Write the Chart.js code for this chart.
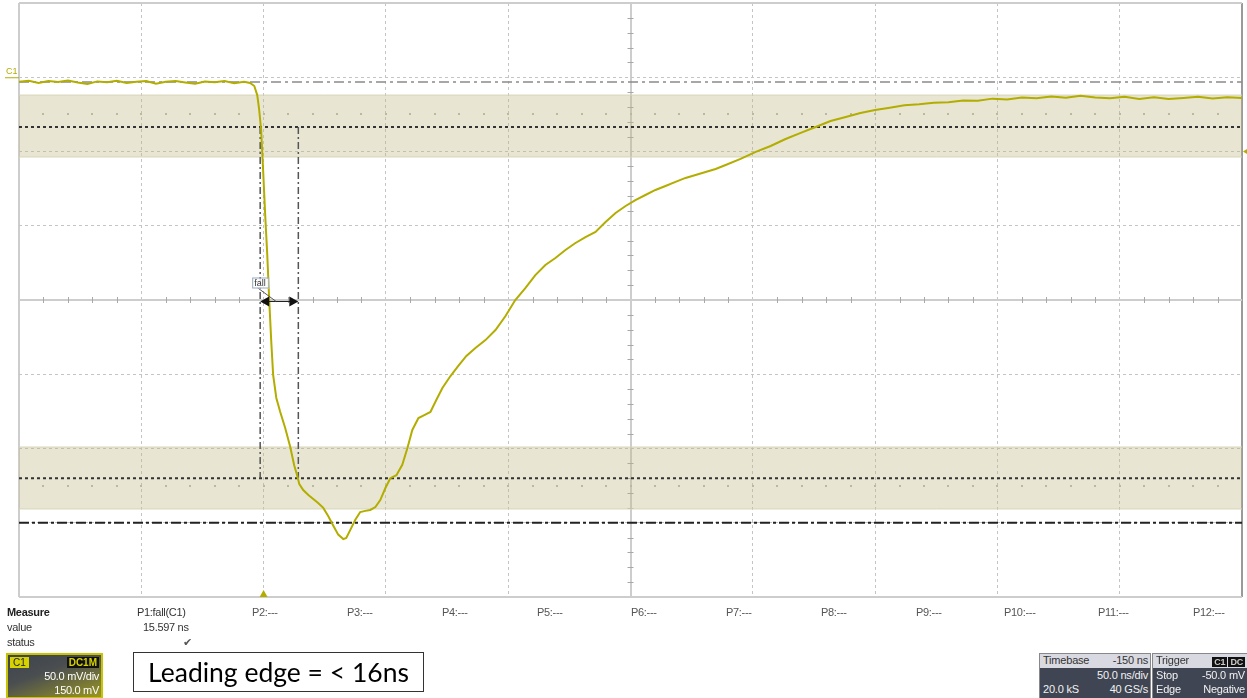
<!DOCTYPE html>
<html>
<head>
<meta charset="utf-8">
<script src="https://cdn.jsdelivr.net/npm/chart.js@4"></script>
<style>
body { margin: 0; background: #fff; font-family: "Liberation Sans", Arial, sans-serif; }
#wrap { position: relative; width: 1247px; height: 698px; overflow: hidden; }
#scope { position: absolute; left: 0; top: 0; }
.t { position: absolute; font-size: 11px; line-height: 13px; color: #333; white-space: nowrap; letter-spacing: -0.3px; }
.b { font-weight: bold; color: #222; }
.plab { color: #555; }
#chbox { position: absolute; left: 6px; top: 653px; width: 93px; height: 42px; border: 2px solid #c9c400;
  background: linear-gradient(160deg, #3d434d 0%, #4a4e50 40%, #9a9624 100%); }
#chbox .c1 { position: absolute; left: 2px; top: 2px; background: #d6d200; color: #222; font-size: 10px; line-height: 11px; padding: 0 3px; }
#chbox .dc { position: absolute; right: 2px; top: 2px; background: #111; color: #d6d200; font-size: 10px; line-height: 11px; padding: 0 2px; font-weight: bold; }
#chbox .r { position: absolute; right: 2px; color: #fff; font-size: 11px; line-height: 13px; letter-spacing: -0.3px; }
#note { position: absolute; left: 133px; top: 652px; width: 289px; height: 38px; border: 1px solid #333; background: #fff;
  font-family: Lato, "Open Sans", sans-serif; font-size: 26.5px; line-height: 38px; text-align: center; color: #000; }
.panel { position: absolute; top: 653px; height: 44px; background: #3f4552; border: 1px solid #888; }
.panel .hd { position: absolute; left: 0; right: 0; top: 0; height: 14px; background: #d9d9e2; }
.panel .tx { position: absolute; font-size: 11px; line-height: 13px; white-space: nowrap; letter-spacing: -0.2px; }
.dark { color: #333; }
.wh { color: #f2f2f2; }
.badge { background: #111; color: #ccc; font-size: 9px; padding: 0 2px; font-weight: bold; }
</style>
</head>
<body>
<div id="wrap">
<canvas id="scope" width="1247" height="698"></canvas>

<div class="t b" style="left:7px;top:606px">Measure</div>
<div class="t" style="left:7px;top:621px">value</div>
<div class="t" style="left:7px;top:636px">status</div>
<div class="t" style="left:137px;top:606px">P1:fall(C1)</div>
<div class="t" style="left:143px;top:621px">15.597 ns</div>
<div class="t" style="left:183px;top:636px;color:#555">&#10004;</div>
<div id="plabels"></div>

<div id="chbox">
  <span class="c1">C1</span><span class="dc">DC1M</span>
  <span class="r" style="top:15px">50.0 mV/div</span>
  <span class="r" style="top:29px">150.0 mV</span>
</div>

<div id="note">Leading edge = &lt; 16ns</div>

<div class="panel" style="left:1039px;width:110px">
  <div class="hd"></div>
  <span class="tx dark" style="left:3px;top:0px">Timebase</span>
  <span class="tx dark" style="right:2px;top:0px">-150 ns</span>
  <span class="tx wh" style="right:2px;top:15px">50.0 ns/div</span>
  <span class="tx wh" style="left:3px;top:29px">20.0 kS</span>
  <span class="tx wh" style="right:2px;top:29px">40 GS/s</span>
</div>
<div class="panel" style="left:1152px;width:94px">
  <div class="hd"></div>
  <span class="tx dark" style="left:3px;top:0px">Trigger</span>
  <span class="tx" style="right:2px;top:1px;line-height:12px"><span class="badge">C1</span><span class="badge" style="margin-left:1px">DC</span></span>
  <span class="tx wh" style="left:3px;top:15px">Stop</span>
  <span class="tx wh" style="right:2px;top:15px">-50.0 mV</span>
  <span class="tx wh" style="left:3px;top:29px">Edge</span>
  <span class="tx wh" style="right:2px;top:29px">Negative</span>
</div>
</div>

<script>
// Scope screen: 50 ns/div, 50 mV/div, trigger at t = 0
const xMin = -100, xMax = 400, xStep = 50;
const yMin = -350, yMax = 50, yStep = 50;

// C1 waveform (ns, mV)
const timeNs = [
  -100, -96, -92, -88, -84, -80, -76, -72, -68, -64, -60, -56, -52, -48, -44, -40, -36, -32, -28, -24,
  -20, -16, -12, -8, -5.5, -3.8, -2.6, -1.8, -1.0, -0.2, 0.65, 1.5, 2.3, 3.1, 3.9, 5.2, 6.8, 8.8,
  10.9, 12.5, 13.7, 14.6, 16.2, 18.3, 20.3, 22.3, 24.4, 26.4, 28.5, 30.5, 32.6, 33.8, 35.4, 37.5,
  39.5, 41.6, 43.6, 45.7, 47.7, 49.8, 51.8, 54.3, 56.7, 58.8, 60.8, 63.3, 65.7, 68.2, 70.6, 73.1,
  76.4, 79.6, 82.9, 86.6, 90.7, 94.8, 98.9, 102.9, 107, 111.1, 115.2, 119.3, 123.4, 127.5, 131.6,
  135.7, 139.8, 143.9, 148, 152, 156.1, 160.2, 164.3, 168.4, 172.5, 176.6, 180.7, 184.8, 188.9,
  195, 201.2, 207.3, 213.4, 219.6, 225.7, 231.8, 238, 244, 250, 256, 262, 268, 274, 280, 286, 292,
  298, 304, 310, 316, 322, 328, 334, 340, 346, 352, 358, 364, 370, 376, 382, 388, 394, 400
];
const voltMv = [
  -3.0, -2.4, -3.8, -2.6, -3.2, -2.2, -3.6, -4.6, -2.8, -3.4, -2.4, -3.9, -3.1, -2.5, -4.4, -3.0, -2.6, -3.5, -4.3, -2.9,
  -3.4, -2.6, -4.0, -3.0, -3.9, -5.9, -12, -22, -35.5, -62.5, -92.8, -119.7, -150, -177, -200.5, -216, -225.4, -236,
  -249, -261.3, -268, -274, -278, -281.3, -284, -286.7, -290, -295.5, -302, -308, -311, -310.3, -305, -298,
  -292.8, -292, -291.4, -289.4, -284.7, -276.6, -270, -268, -261, -249.7, -237.5, -229.5, -227.5, -225.4, -217.3, -209.3,
  -201.2, -194.4, -187.7, -182.3, -177, -170.2, -160.8, -150, -142, -133.2, -126.4, -121.7, -116.3, -111.6, -107.6,
  -104.2, -97.5, -91.4, -86.7, -82.7, -79.3, -75.9, -73.2, -70.5, -67.8, -65.8, -63.8, -61.8, -59.1,
  -55, -50.3, -46.3, -41.6, -37.5, -33.5, -29.5, -26.8, -24.1, -22, -20.5, -18.9, -18.2, -17.1, -16.8, -15.6, -15.9,
  -14.4, -14.9, -13.6, -14.2, -13.0, -13.8, -12.4, -13.6, -14.1, -13.2, -14.6, -13.4, -14.7, -13.9, -13.2, -14.3, -13.5, -14.0
];

// measurement levels and threshold bands (mV)
const topLevel = -3.2;
const baseLevel = -300;
const level10 = -33.5;
const level90 = -270;
const upperBand = [-12, -53.7];
const lowerBand = [-249, -290.7];
// fall measurement cursors (ns)
const fallStart = -1.4;
const fallEnd = 14.2;
const trigLevel = -50;

const pLabels = ['P2:---', 'P3:---', 'P4:---', 'P5:---', 'P6:---', 'P7:---', 'P8:---', 'P9:---', 'P10:---', 'P11:---', 'P12:---'];
const pLabelX = [252, 347, 442, 537, 631, 726, 821, 916, 1004, 1098, 1193];

const plab = document.getElementById('plabels');
pLabels.forEach((s, i) => {
    const d = document.createElement('div');
    d.className = 't plab';
    d.style.left = pLabelX[i] + 'px';
    d.style.top = '606px';
    d.textContent = s;
    plab.appendChild(d);
});

const hline = (y, color, dash, width, order) => ({
    data: [{ x: xMin, y: y }, { x: xMax, y: y }],
    borderColor: color, borderDash: dash, borderWidth: width,
    pointRadius: 0, fill: false, order: order
});
const vline = (x, y0, y1) => ({
    data: [{ x: x, y: y0 }, { x: x, y: y1 }],
    borderColor: '#555', borderDash: [7, 3, 2, 3], borderWidth: 1.5,
    pointRadius: 0, fill: false, order: 2
});
const bandFill = 'rgba(190, 185, 130, 0.36)';

const datasets = [
    { label: 'C1', data: timeNs.map((t, i) => ({ x: t, y: voltMv[i] })),
      borderColor: '#b3ad00', borderWidth: 2, pointRadius: 0, tension: 0, fill: false, order: 0 },
    // bands
    hline(upperBand[0], '#d7d4b8', [], 1, 5),
    Object.assign(hline(upperBand[1], '#d7d4b8', [], 1, 5), { fill: '-1', backgroundColor: bandFill }),
    hline(lowerBand[0], '#d7d4b8', [], 1, 5),
    Object.assign(hline(lowerBand[1], '#d7d4b8', [], 1, 5), { fill: '-1', backgroundColor: bandFill }),
    // levels
    hline(topLevel, '#8a8a8a', [10, 4, 3, 4], 1.5, 3),
    hline(level10, '#333', [3, 3], 2, 3),
    hline(level90, '#333', [3, 3], 2, 3),
    hline(baseLevel, '#222', [10, 3, 3, 3], 2, 3),
    vline(fallStart, level10, level90),
    vline(fallEnd, level10, level90)
];

const isEdge = (v, a, b) => v === a || v === b;

const scopeExtras = {
    id: 'scopeExtras',
    beforeDatasetsDraw(chart) {
        const { ctx, scales: { x, y } } = chart;
        const cx = x.getPixelForValue(150), cy = y.getPixelForValue(-150);
        ctx.save();
        ctx.strokeStyle = '#a8a8a8';
        ctx.lineWidth = 1;
        ctx.beginPath();
        for (let t = xMin + 10; t < xMax; t += 10) {
            if ((t - xMin) % 50 === 0) continue;
            const px = Math.round(x.getPixelForValue(t)) + 0.5;
            ctx.moveTo(px, cy - 3); ctx.lineTo(px, cy + 3);
        }
        for (let v = yMin + 10; v < yMax; v += 10) {
            if ((v - yMin) % 50 === 0) continue;
            const py = Math.round(y.getPixelForValue(v)) + 0.5;
            ctx.moveTo(cx - 3, py); ctx.lineTo(cx + 3, py);
        }
        ctx.stroke();
        // grid dots inside the bands
        ctx.fillStyle = '#b8b8ac';
        [-25, -275].forEach(v => {
            const py = Math.round(y.getPixelForValue(v));
            for (let t = xMin + 10; t < xMax; t += 10) {
                ctx.fillRect(Math.round(x.getPixelForValue(t)) - 1, py - 1, 2, 2);
            }
        });
        ctx.restore();
    },
    afterDraw(chart) {
        const { ctx, scales: { x, y }, chartArea } = chart;
        ctx.save();
        // fall arrow
        const xs = x.getPixelForValue(fallStart), xe = x.getPixelForValue(fallEnd);
        const ya = Math.round(y.getPixelForValue(-150)) + 1.5;
        ctx.strokeStyle = '#222';
        ctx.fillStyle = '#111';
        ctx.lineWidth = 1;
        ctx.beginPath();
        ctx.moveTo(xs + 4, ya); ctx.lineTo(xe - 4, ya);
        ctx.stroke();
        ctx.beginPath();
        ctx.moveTo(xs, ya); ctx.lineTo(xs + 9, ya - 5); ctx.lineTo(xs + 9, ya + 5); ctx.closePath();
        ctx.moveTo(xe, ya); ctx.lineTo(xe - 9, ya - 5); ctx.lineTo(xe - 9, ya + 5); ctx.closePath();
        ctx.fill();
        ctx.strokeStyle = '#555';
        ctx.beginPath();
        ctx.moveTo(xs - 3, ya - 14); ctx.lineTo(xs + 16, ya);
        ctx.stroke();
        ctx.fillStyle = 'rgba(255,255,255,0.85)';
        ctx.fillRect(xs - 7, ya - 23, 16, 10);
        ctx.strokeStyle = '#9ab';
        ctx.strokeRect(xs - 7.5, ya - 23.5, 16, 10);
        ctx.fillStyle = '#333';
        ctx.font = '9px "Liberation Sans", Arial, sans-serif';
        ctx.textBaseline = 'middle';
        ctx.fillText('fall', xs - 6, ya - 18);
        // channel marker at 0 V
        const y0 = y.getPixelForValue(0);
        ctx.fillStyle = '#b3ad00';
        ctx.fillText('C1', 6, y0 - 6);
        ctx.strokeStyle = '#b3ad00';
        ctx.beginPath();
        ctx.moveTo(5, y0 + 0.5); ctx.lineTo(chartArea.left, y0 + 0.5);
        ctx.stroke();
        // trigger position and level markers
        const tx = x.getPixelForValue(0);
        ctx.beginPath();
        ctx.moveTo(tx, chartArea.bottom - 7); ctx.lineTo(tx - 4, chartArea.bottom); ctx.lineTo(tx + 4, chartArea.bottom);
        ctx.closePath(); ctx.fill();
        const ty = y.getPixelForValue(trigLevel);
        ctx.beginPath();
        ctx.moveTo(chartArea.right + 1, ty); ctx.lineTo(chartArea.right + 6, ty - 3); ctx.lineTo(chartArea.right + 6, ty + 3);
        ctx.closePath(); ctx.fill();
        ctx.restore();
    }
};

new Chart(document.getElementById('scope').getContext('2d'), {
    type: 'line',
    data: { datasets: datasets },
    options: {
        responsive: false,
        animation: false,
        devicePixelRatio: 1,
        layout: { padding: { left: 19, top: 3, right: 5, bottom: 101 } },
        plugins: { legend: { display: false }, tooltip: { enabled: false } },
        scales: {
            x: {
                type: 'linear', min: xMin, max: xMax,
                ticks: { display: false, stepSize: xStep },
                grid: {
                    drawTicks: false,
                    color: c => c.tick && c.tick.value === xMax ? '#9a9a9a' : (isEdge(c.tick && c.tick.value, xMin, xMax) || (c.tick && c.tick.value === 150) ? '#cdcdcd' : '#c4c4c4'),
                    lineWidth: c => c.tick && (isEdge(c.tick.value, xMin, xMax) || c.tick.value === 150) ? 2 : 1
                },
                border: { display: false, dash: c => c.tick && (isEdge(c.tick.value, xMin, xMax) || c.tick.value === 150) ? [] : [3, 3] }
            },
            y: {
                type: 'linear', min: yMin, max: yMax,
                ticks: { display: false, stepSize: yStep },
                grid: {
                    drawTicks: false,
                    color: c => c.tick && (isEdge(c.tick.value, yMin, yMax) || c.tick.value === -150) ? '#cdcdcd' : '#c4c4c4',
                    lineWidth: c => c.tick && (isEdge(c.tick.value, yMin, yMax) || c.tick.value === -150) ? 2 : 1
                },
                border: { display: false, dash: c => c.tick && (isEdge(c.tick.value, yMin, yMax) || c.tick.value === -150) ? [] : [3, 3] }
            }
        }
    },
    plugins: [scopeExtras]
});
</script>
</body>
</html>
